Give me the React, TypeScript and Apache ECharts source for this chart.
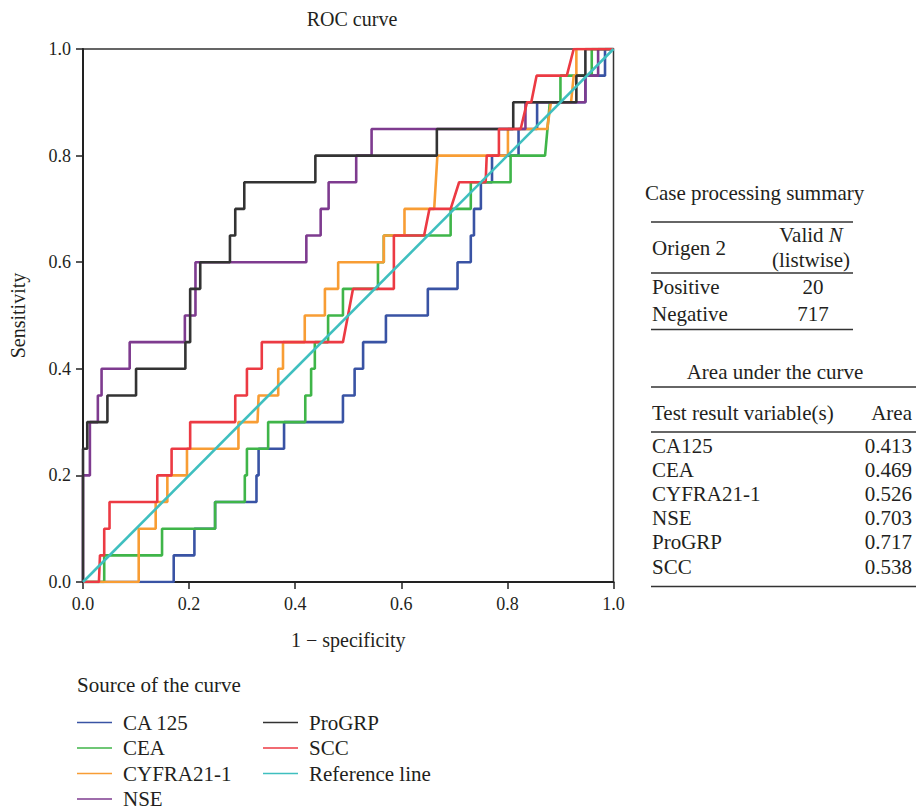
import React, { useEffect, useRef } from "react";
import * as echarts from "echarts";

// ROC curve points [1 - specificity, sensitivity]
const CA125: number[][] = [[0,0],[0.171,0],[0.171,0.05],[0.21,0.05],[0.21,0.1],[0.249,0.1],[0.249,0.15],[0.327,0.15],[0.327,0.2],[0.331,0.2],[0.331,0.25],[0.379,0.25],[0.379,0.3],[0.49,0.3],[0.49,0.35],[0.512,0.35],[0.512,0.4],[0.528,0.4],[0.528,0.45],[0.571,0.45],[0.571,0.5],[0.65,0.5],[0.65,0.55],[0.706,0.55],[0.706,0.6],[0.731,0.6],[0.731,0.65],[0.737,0.65],[0.737,0.7],[0.75,0.7],[0.75,0.75],[0.771,0.75],[0.771,0.8],[0.821,0.8],[0.821,0.85],[0.856,0.85],[0.856,0.9],[0.947,0.9],[0.947,0.95],[0.984,0.95],[0.984,1],[1,1]];
const CEA: number[][] = [[0,0],[0.04,0],[0.04,0.05],[0.149,0.05],[0.149,0.1],[0.249,0.1],[0.249,0.15],[0.305,0.15],[0.305,0.2],[0.309,0.2],[0.309,0.25],[0.349,0.25],[0.349,0.3],[0.419,0.3],[0.419,0.35],[0.43,0.35],[0.43,0.4],[0.437,0.4],[0.437,0.45],[0.462,0.45],[0.462,0.5],[0.49,0.5],[0.49,0.55],[0.556,0.55],[0.556,0.6],[0.567,0.6],[0.567,0.65],[0.693,0.65],[0.693,0.7],[0.731,0.7],[0.731,0.75],[0.806,0.75],[0.806,0.8],[0.871,0.8],[0.88,0.9],[0.9,0.9],[0.9,0.95],[0.959,0.95],[0.959,1],[1,1]];
const CYFRA: number[][] = [[0,0],[0.105,0],[0.105,0.1],[0.137,0.1],[0.137,0.15],[0.159,0.15],[0.159,0.2],[0.196,0.2],[0.196,0.25],[0.293,0.25],[0.293,0.3],[0.329,0.3],[0.331,0.35],[0.368,0.35],[0.368,0.4],[0.377,0.4],[0.377,0.45],[0.418,0.45],[0.418,0.5],[0.456,0.5],[0.456,0.55],[0.481,0.55],[0.481,0.6],[0.567,0.6],[0.567,0.65],[0.606,0.65],[0.606,0.7],[0.662,0.7],[0.668,0.8],[0.801,0.8],[0.801,0.85],[0.875,0.85],[0.882,0.9],[0.92,0.9],[0.925,0.95],[0.93,0.95],[0.93,1],[1,1]];
const NSE: number[][] = [[0,0],[0,0.2],[0.013,0.2],[0.013,0.3],[0.028,0.3],[0.028,0.35],[0.035,0.35],[0.035,0.4],[0.088,0.4],[0.088,0.45],[0.192,0.45],[0.192,0.5],[0.212,0.5],[0.212,0.6],[0.421,0.6],[0.421,0.65],[0.448,0.65],[0.448,0.7],[0.463,0.7],[0.463,0.75],[0.515,0.75],[0.515,0.8],[0.544,0.8],[0.544,0.85],[0.834,0.85],[0.834,0.9],[0.947,0.9],[0.947,0.95],[0.971,0.95],[0.971,1],[1,1]];
const ProGRP: number[][] = [[0,0],[0,0.25],[0.008,0.25],[0.008,0.3],[0.046,0.3],[0.046,0.35],[0.1,0.35],[0.1,0.4],[0.193,0.4],[0.193,0.45],[0.202,0.45],[0.202,0.55],[0.221,0.55],[0.221,0.6],[0.277,0.6],[0.277,0.65],[0.287,0.65],[0.287,0.7],[0.304,0.7],[0.304,0.75],[0.438,0.75],[0.438,0.8],[0.667,0.8],[0.667,0.85],[0.811,0.85],[0.811,0.9],[0.93,0.9],[0.93,0.95],[0.947,0.95],[0.947,1],[1,1]];
const SCC: number[][] = [[0,0],[0.03,0],[0.032,0.05],[0.04,0.05],[0.04,0.1],[0.05,0.1],[0.05,0.15],[0.14,0.15],[0.14,0.2],[0.167,0.2],[0.167,0.25],[0.202,0.25],[0.202,0.3],[0.287,0.3],[0.287,0.35],[0.309,0.35],[0.309,0.4],[0.337,0.4],[0.337,0.45],[0.49,0.45],[0.509,0.55],[0.586,0.55],[0.586,0.65],[0.643,0.65],[0.653,0.7],[0.693,0.7],[0.709,0.75],[0.759,0.75],[0.761,0.8],[0.784,0.8],[0.784,0.85],[0.825,0.85],[0.837,0.9],[0.845,0.9],[0.855,0.95],[0.912,0.95],[0.925,1],[1,1]];
const REFERENCE: number[][] = [[0,0],[1,1]];

const seriesNames = ["CA 125", "CEA", "CYFRA21-1", "NSE", "ProGRP", "SCC", "Reference line"];
const seriesColors = ["#3953a4", "#3fb549", "#f89d34", "#7e3b8f", "#333333", "#ec3a43", "#3fbfbf"];
const seriesData = [CA125, CEA, CYFRA, NSE, ProGRP, SCC, REFERENCE];

// Tables
const summaryGroups = ["Positive", "Negative"];
const summaryN = ["20", "717"];
const aucVariables = ["CA125", "CEA", "CYFRA21-1", "NSE", "ProGRP", "SCC"];
const aucValues = ["0.413", "0.469", "0.526", "0.703", "0.717", "0.538"];

const FONT = "Liberation Serif";
const TXT = "#231f20";

export default function App() {
  const ref = useRef<HTMLDivElement>(null);
  useEffect(() => {
    if (!ref.current) return;
    const chart = echarts.init(ref.current, null, { renderer: "svg" });

    const fs = 21;
    const txt = (text: string, x: number, y: number, align = "left") => ({
      type: "text",
      x,
      y,
      style: { text, fill: TXT, fontSize: fs, fontFamily: FONT, textAlign: align, textVerticalAlign: "middle" },
    });
    const hline = (x1: number, x2: number, y: number) => ({
      type: "line",
      shape: { x1, y1: y, x2, y2: y },
      style: { stroke: "#333", lineWidth: 1.5 },
    });

    const graphics: any[] = [];
    graphics.push(txt("Case processing summary", 645, 193));
    graphics.push(hline(651, 853, 222));
    graphics.push(txt("Origen 2", 652, 248));
    graphics.push({
      type: "text",
      x: 811,
      y: 235,
      style: {
        text: "Valid {i|N}",
        fill: TXT,
        fontSize: fs,
        fontFamily: FONT,
        textAlign: "center",
        textVerticalAlign: "middle",
        rich: { i: { fontStyle: "italic", fontSize: fs, fontFamily: FONT, fill: TXT } },
      },
    });
    graphics.push(txt("(listwise)", 811, 260, "center"));
    graphics.push(hline(651, 853, 273));
    summaryGroups.forEach((g, i) => {
      const y = 287.3 + i * 26.7;
      graphics.push(txt(g, 652, y));
      graphics.push(txt(summaryN[i], 813, y, "center"));
    });
    graphics.push(hline(651, 853, 329.5));

    graphics.push(txt("Area under the curve", 775, 372, "center"));
    graphics.push(hline(651, 916, 387));
    graphics.push(txt("Test result variable(s)", 652, 413));
    graphics.push(txt("Area", 912, 413, "right"));
    graphics.push(hline(651, 916, 432));
    aucVariables.forEach((v, i) => {
      const y = 445.5 + i * 24.2;
      graphics.push(txt(v, 652, y));
      graphics.push(txt(aucValues[i], 912, y, "right"));
    });
    graphics.push(hline(651, 916, 586.5));
    graphics.push(txt("Source of the curve", 77, 685));

    const legendCommon = {
      orient: "vertical",
      icon: "rect",
      itemWidth: 35,
      itemHeight: 1.6,
      itemGap: 4.5,
      padding: 0,
      height: 130,
      textStyle: { fontFamily: FONT, fontSize: fs, color: TXT, lineHeight: 21, padding: [0, 0, 0, 6] },
      selectedMode: false,
    };

    chart.setOption({
      animation: false,
      backgroundColor: "#fff",
      title: {
        text: "ROC curve",
        left: 347,
        top: 4,
        padding: 5,
        textAlign: "center",
        textStyle: { fontFamily: FONT, fontSize: 20, fontWeight: "normal", color: TXT },
      },
      legend: [
        { ...legendCommon, data: seriesNames.slice(0, 4), left: 77, top: 712 },
        { ...legendCommon, data: seriesNames.slice(4), left: 263, top: 712 },
      ],
      grid: {
        left: 80.5,
        top: 49,
        width: 533,
        height: 533,
        show: true,
        borderColor: "#333",
        borderWidth: 1.5,
        backgroundColor: "transparent",
      },
      xAxis: {
        type: "value",
        min: 0,
        max: 1,
        interval: 0.2,
        name: "1 \u2212 specificity",
        nameLocation: "middle",
        nameGap: 48,
        nameTextStyle: { fontFamily: FONT, fontSize: 20, color: TXT },
        axisLine: { show: true, lineStyle: { color: "#222", width: 2 } },
        axisTick: { show: true, inside: false, length: 7, lineStyle: { color: "#222", width: 1.5 } },
        axisLabel: {
          fontFamily: FONT,
          fontSize: 18,
          color: TXT,
          margin: 13,
          formatter: (v: number) => v.toFixed(1),
        },
        splitLine: { show: false },
      },
      yAxis: {
        type: "value",
        min: 0,
        max: 1,
        interval: 0.2,
        name: "Sensitivity",
        nameLocation: "middle",
        nameGap: 55,
        nameRotate: 90,
        nameTextStyle: { fontFamily: FONT, fontSize: 20, color: TXT },
        axisLine: { show: true, lineStyle: { color: "#222", width: 2 } },
        axisTick: { show: true, inside: false, length: 7, lineStyle: { color: "#222", width: 1.5 } },
        axisLabel: {
          fontFamily: FONT,
          fontSize: 18,
          color: TXT,
          margin: 12,
          formatter: (v: number) => v.toFixed(1),
        },
        splitLine: { show: false },
      },
      series: seriesNames.map((name, i) => ({
        name,
        type: "line",
        data: seriesData[i],
        showSymbol: false,
        symbol: "none",
        color: seriesColors[i],
        lineStyle: { color: seriesColors[i], width: 2.6 },
        z: 2 + i,
      })),
      graphic: graphics,
    });
    return () => chart.dispose();
  }, []);
  return <div ref={ref} style={{ position: "absolute", left: 0, top: 0, width: 916, height: 811 }} />;
}
